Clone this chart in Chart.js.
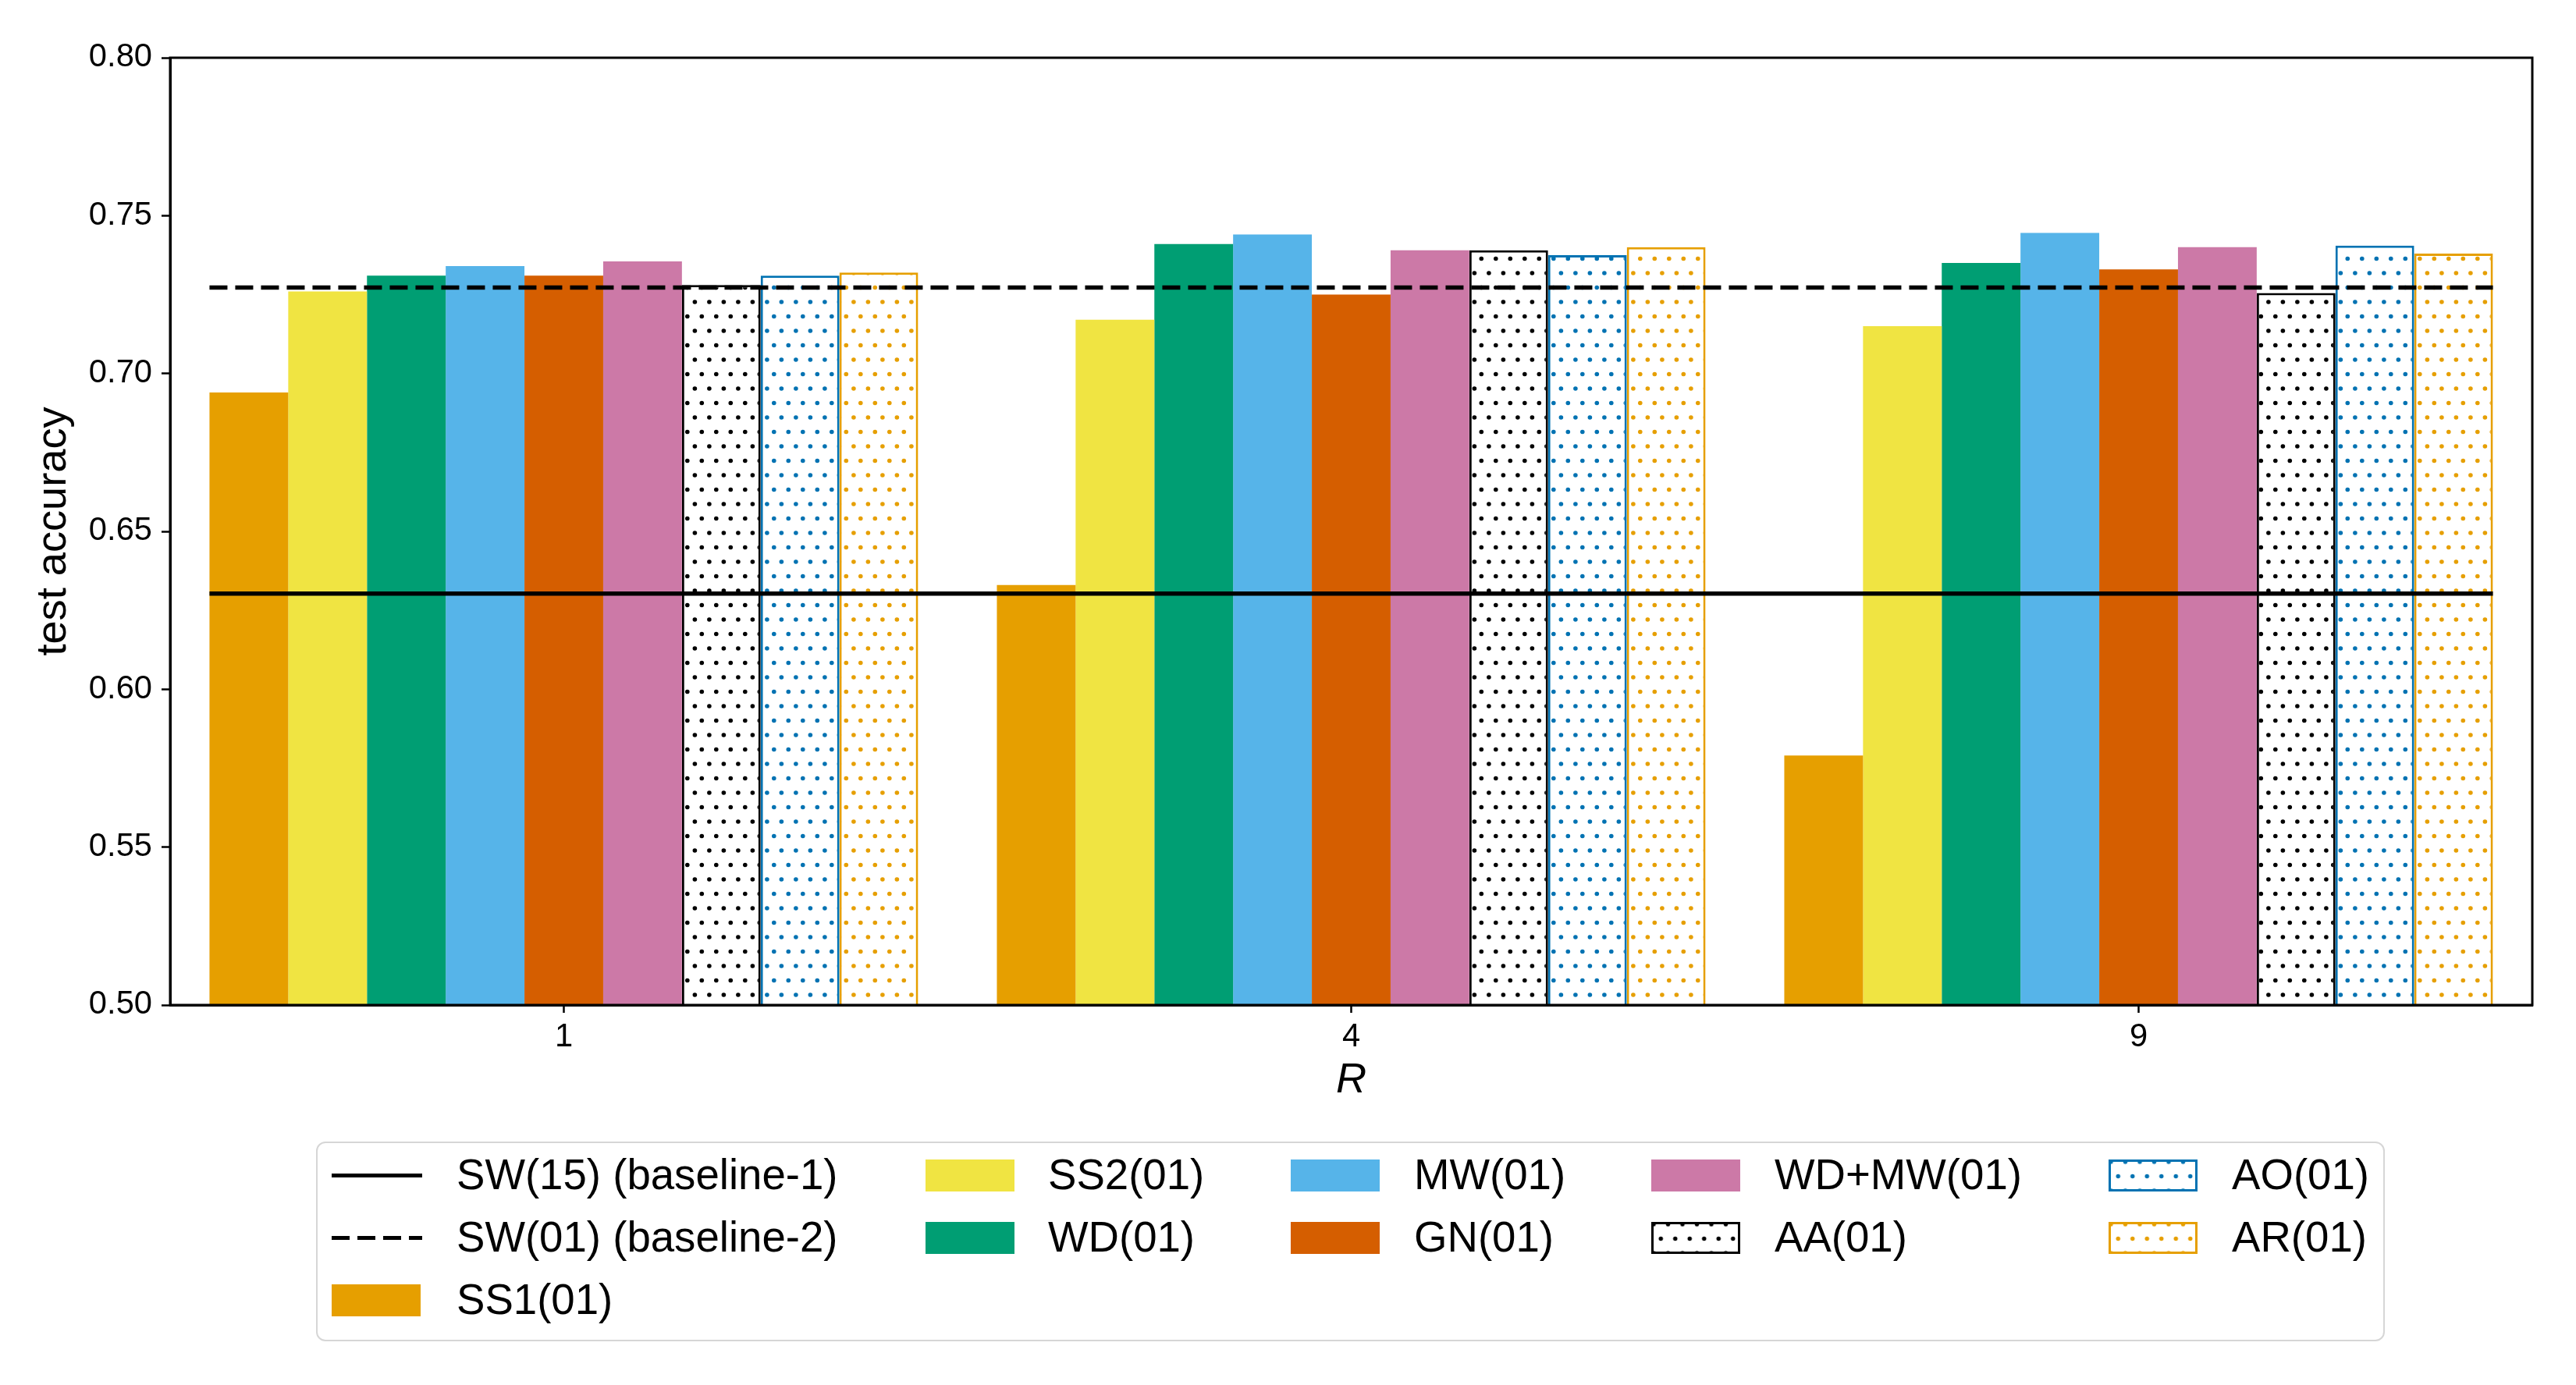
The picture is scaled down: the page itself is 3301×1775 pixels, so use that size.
<!DOCTYPE html>
<html>
<head>
<meta charset="utf-8">
<script src="https://cdn.jsdelivr.net/npm/chart.js@4.4.1/dist/chart.umd.min.js"></script>
<style>
  html, body { margin: 0; padding: 0; background: #ffffff; }
  #wrap { position: relative; width: 3301px; height: 1775px; background: #ffffff; overflow: hidden; }
  #c { position: absolute; left: 0; top: 0; }
  #legendBox { position: absolute; left: 405px; top: 1463px; width: 2651px; height: 256px; box-sizing: border-box;
               border: 2.5px solid #d6d6d6; border-radius: 12px; }
  .item { position: absolute; height: 60px; display: flex; align-items: center; }
  .txt { position: absolute; height: 60px; display: flex; align-items: center; white-space: nowrap;
         font-family: "Liberation Sans", Arial, sans-serif; font-size: 54.6px; line-height: 1; color: #000; }
  .sw { box-sizing: border-box; }
</style>
</head>
<body>
<div id="wrap">
  <canvas id="c" width="3301" height="1775"></canvas>
  <div id="legendBox"></div>
</div>
<script>
// ---------------- data ----------------
const categories = ['1', '4', '9'];
const seriesLabels = ['SS1(01)', 'SS2(01)', 'WD(01)', 'MW(01)', 'GN(01)', 'WD+MW(01)', 'AA(01)', 'AO(01)', 'AR(01)'];
const ss1  = [0.694, 0.633, 0.579];
const ss2  = [0.726, 0.717, 0.715];
const wd   = [0.731, 0.741, 0.735];
const mw   = [0.734, 0.744, 0.7445];
const gn   = [0.731, 0.725, 0.733];
const wdmw = [0.7355, 0.739, 0.740];
const aa   = [0.728, 0.739, 0.7255];
const ao   = [0.731, 0.7375, 0.7405];
const ar   = [0.732, 0.740, 0.738];
const seriesValues = [ss1, ss2, wd, mw, gn, wdmw, aa, ao, ar];
const seriesColors = ['#E69F00', '#F0E442', '#009E73', '#56B4E9', '#D55E00', '#CC79A7', '#000000', '#0072B2', '#E69F00'];
const seriesHatched = [false, false, false, false, false, false, true, true, true];
const baselineLabels = ['SW(15) (baseline-1)', 'SW(01) (baseline-2)'];
const baselineValues = [0.6303, 0.7272];
const yTicks = [0.50, 0.55, 0.60, 0.65, 0.70, 0.75, 0.80];
const xTitle = 'R';
const yTitle = 'test accuracy';

// ---------------- styling ----------------
const FONT = '"Liberation Sans", Arial, sans-serif';
const groupFraction = 0.9;          // share of each category slot used by the group of bars
const lineWidth = 5.5;
const dashPattern = [23, 10];

const canvas = document.getElementById('c');
const ctx = canvas.getContext('2d');

function dotPattern(color) {
  const T = 37, P = 18.5;
  const t = document.createElement('canvas');
  t.width = T; t.height = T;
  const g = t.getContext('2d');
  g.fillStyle = '#ffffff';
  g.fillRect(0, 0, T, T);
  g.fillStyle = color;
  const dots = [[2.4, 17], [2.4 + P, 17], [11.3, 35.5], [11.3 + P, 35.5]];
  for (const [x, y] of dots) {
    for (const dx of [-T, 0, T]) for (const dy of [-T, 0, T]) {
      g.beginPath();
      g.arc(x + dx, y + dy, 2.8, 0, Math.PI * 2);
      g.fill();
    }
  }
  return ctx.createPattern(t, 'repeat');
}

// category positions 0..n-1 on a linear x scale
const catIndex = categories.map((_, i) => i);
const lineStart = catIndex[0] - groupFraction / 2;
const lineEnd = catIndex[catIndex.length - 1] + groupFraction / 2;

const datasets = [];
baselineLabels.forEach((lab, i) => {
  datasets.push({
    type: 'line',
    label: lab,
    xAxisID: 'x',
    yAxisID: 'y',
    data: [{ x: lineStart, y: baselineValues[i] }, { x: lineEnd, y: baselineValues[i] }],
    borderColor: '#000000',
    borderWidth: lineWidth,
    borderDash: i === 1 ? dashPattern : [],
    borderCapStyle: 'butt',
    pointRadius: 0,
    fill: false
  });
});
seriesLabels.forEach((lab, i) => {
  datasets.push({
    type: 'bar',
    label: lab,
    xAxisID: 'x',
    yAxisID: 'y',
    data: seriesValues[i].map((v, k) => ({ x: catIndex[k], y: v })),
    backgroundColor: seriesHatched[i] ? dotPattern(seriesColors[i]) : seriesColors[i],
    borderColor: seriesColors[i],
    borderWidth: seriesHatched[i] ? 3 : 0,
    borderSkipped: false
  });
});

const framePlugin = {
  id: 'frame',
  afterDatasetsDraw(chart) {
    const a = chart.chartArea;
    const c = chart.ctx;
    c.save();
    c.strokeStyle = '#000000';
    c.lineWidth = 3;
    c.strokeRect(a.left, a.top, a.right - a.left, a.bottom - a.top);
    c.restore();
  }
};

const chart = new Chart(ctx, {
  type: 'bar',
  data: { datasets: datasets },
  plugins: [framePlugin],
  options: {
    responsive: false,
    devicePixelRatio: 1,
    animation: false,
    categoryPercentage: groupFraction,
    barPercentage: 1.0,
    layout: { padding: { left: 0, right: 56, top: 74, bottom: 357 } },
    plugins: { legend: { display: false }, tooltip: { enabled: false } },
    scales: {
      x: {
        type: 'linear',
        offset: false,
        min: catIndex[0] - 0.5,
        max: catIndex[catIndex.length - 1] + 0.5,
        afterBuildTicks: (s) => { s.ticks = catIndex.map(v => ({ value: v })); },
        afterFit: (s) => { s.height = 130; },
        grid: { display: true, offset: false, drawOnChartArea: false, drawTicks: true,
                tickLength: 10, tickWidth: 2.5, tickColor: '#000000' },
        border: { display: true, color: '#000000', width: 3 },
        ticks: { color: '#000000', font: { family: FONT, size: 41.7 }, padding: 6, maxRotation: 0,
                 autoSkip: false, callback: (v, i) => categories[i] },
        title: { display: true, text: xTitle, color: '#000000',
                 font: { family: FONT, size: 54.2, style: 'italic' }, padding: { top: 0, bottom: 1 } }
      },
      y: {
        type: 'linear',
        min: yTicks[0],
        max: yTicks[yTicks.length - 1],
        afterFit: (s) => { s.width = 218; },
        afterBuildTicks: (s) => { s.ticks = yTicks.map(v => ({ value: v })); },
        grid: { display: true, offset: false, drawOnChartArea: false, drawTicks: true,
                tickLength: 11, tickWidth: 2.5, tickColor: '#000000' },
        border: { display: true, color: '#000000', width: 3 },
        ticks: { color: '#000000', font: { family: FONT, size: 41.7 }, padding: 12,
                 callback: (v) => Number(v).toFixed(2) },
        title: { display: true, text: yTitle, color: '#000000',
                 font: { family: FONT, size: 54.2 }, padding: { top: 37, bottom: 0 } }
      }
    }
  }
});

// ---------------- legend (matplotlib-like, 5 columns filled column-wise) ----------------
const entries = [
  { label: baselineLabels[0], kind: 'solid' },
  { label: baselineLabels[1], kind: 'dash' }
].concat(seriesLabels.map((l, i) => ({ label: l, kind: 'bar', color: seriesColors[i], hatched: seriesHatched[i] })));

const colSwatchLeft = [425, 1186, 1654, 2116, 2702];
const colTextLeft = [585, 1343, 1812, 2274, 2860];
const rowCenter = [1506.7, 1586.7, 1666.3];
const nCol = 5;
const nRowsMax = Math.ceil(entries.length / nCol);
const extra = entries.length % nCol;
let idx = 0;
const wrap = document.getElementById('wrap');
for (let col = 0; col < nCol; col++) {
  const rowsHere = (extra === 0 || col < extra) ? nRowsMax : nRowsMax - 1;
  for (let row = 0; row < rowsHere && idx < entries.length; row++, idx++) {
    const e = entries[idx];
    const item = document.createElement('div');
    item.className = 'item';
    item.style.left = colSwatchLeft[col] + 'px';
    item.style.top = (rowCenter[row] - 30) + 'px';
    const sw = document.createElement('div');
    sw.className = 'sw';
    if (e.kind === 'solid') {
      sw.style.width = '116px'; sw.style.height = lineWidth + 'px'; sw.style.background = '#000';
    } else if (e.kind === 'dash') {
      sw.style.width = '116px'; sw.style.height = lineWidth + 'px';
      sw.style.background = 'repeating-linear-gradient(to right, #000 0px, #000 23px, transparent 23px, transparent 33px)';
    } else {
      sw.style.width = '114px'; sw.style.height = '41px';
      if (e.hatched) {
        sw.style.border = '3px solid ' + e.color;
        sw.style.backgroundColor = '#fff';
        const dot = 'radial-gradient(circle, ' + e.color + ' 2.4px, transparent 3.2px)';
        sw.style.backgroundImage = dot + ', ' + dot;
        sw.style.backgroundSize = '18.5px 37px';
        sw.style.backgroundPosition = '0px 0px, 9.25px 18.5px';
      } else {
        sw.style.background = e.color;
      }
    }
    item.appendChild(sw);
    wrap.appendChild(item);
    const txt = document.createElement('div');
    txt.className = 'txt';
    txt.style.left = colTextLeft[col] + 'px';
    txt.style.top = (rowCenter[row] - 30) + 'px';
    txt.textContent = e.label;
    wrap.appendChild(txt);
  }
}
</script>
</body>
</html>
